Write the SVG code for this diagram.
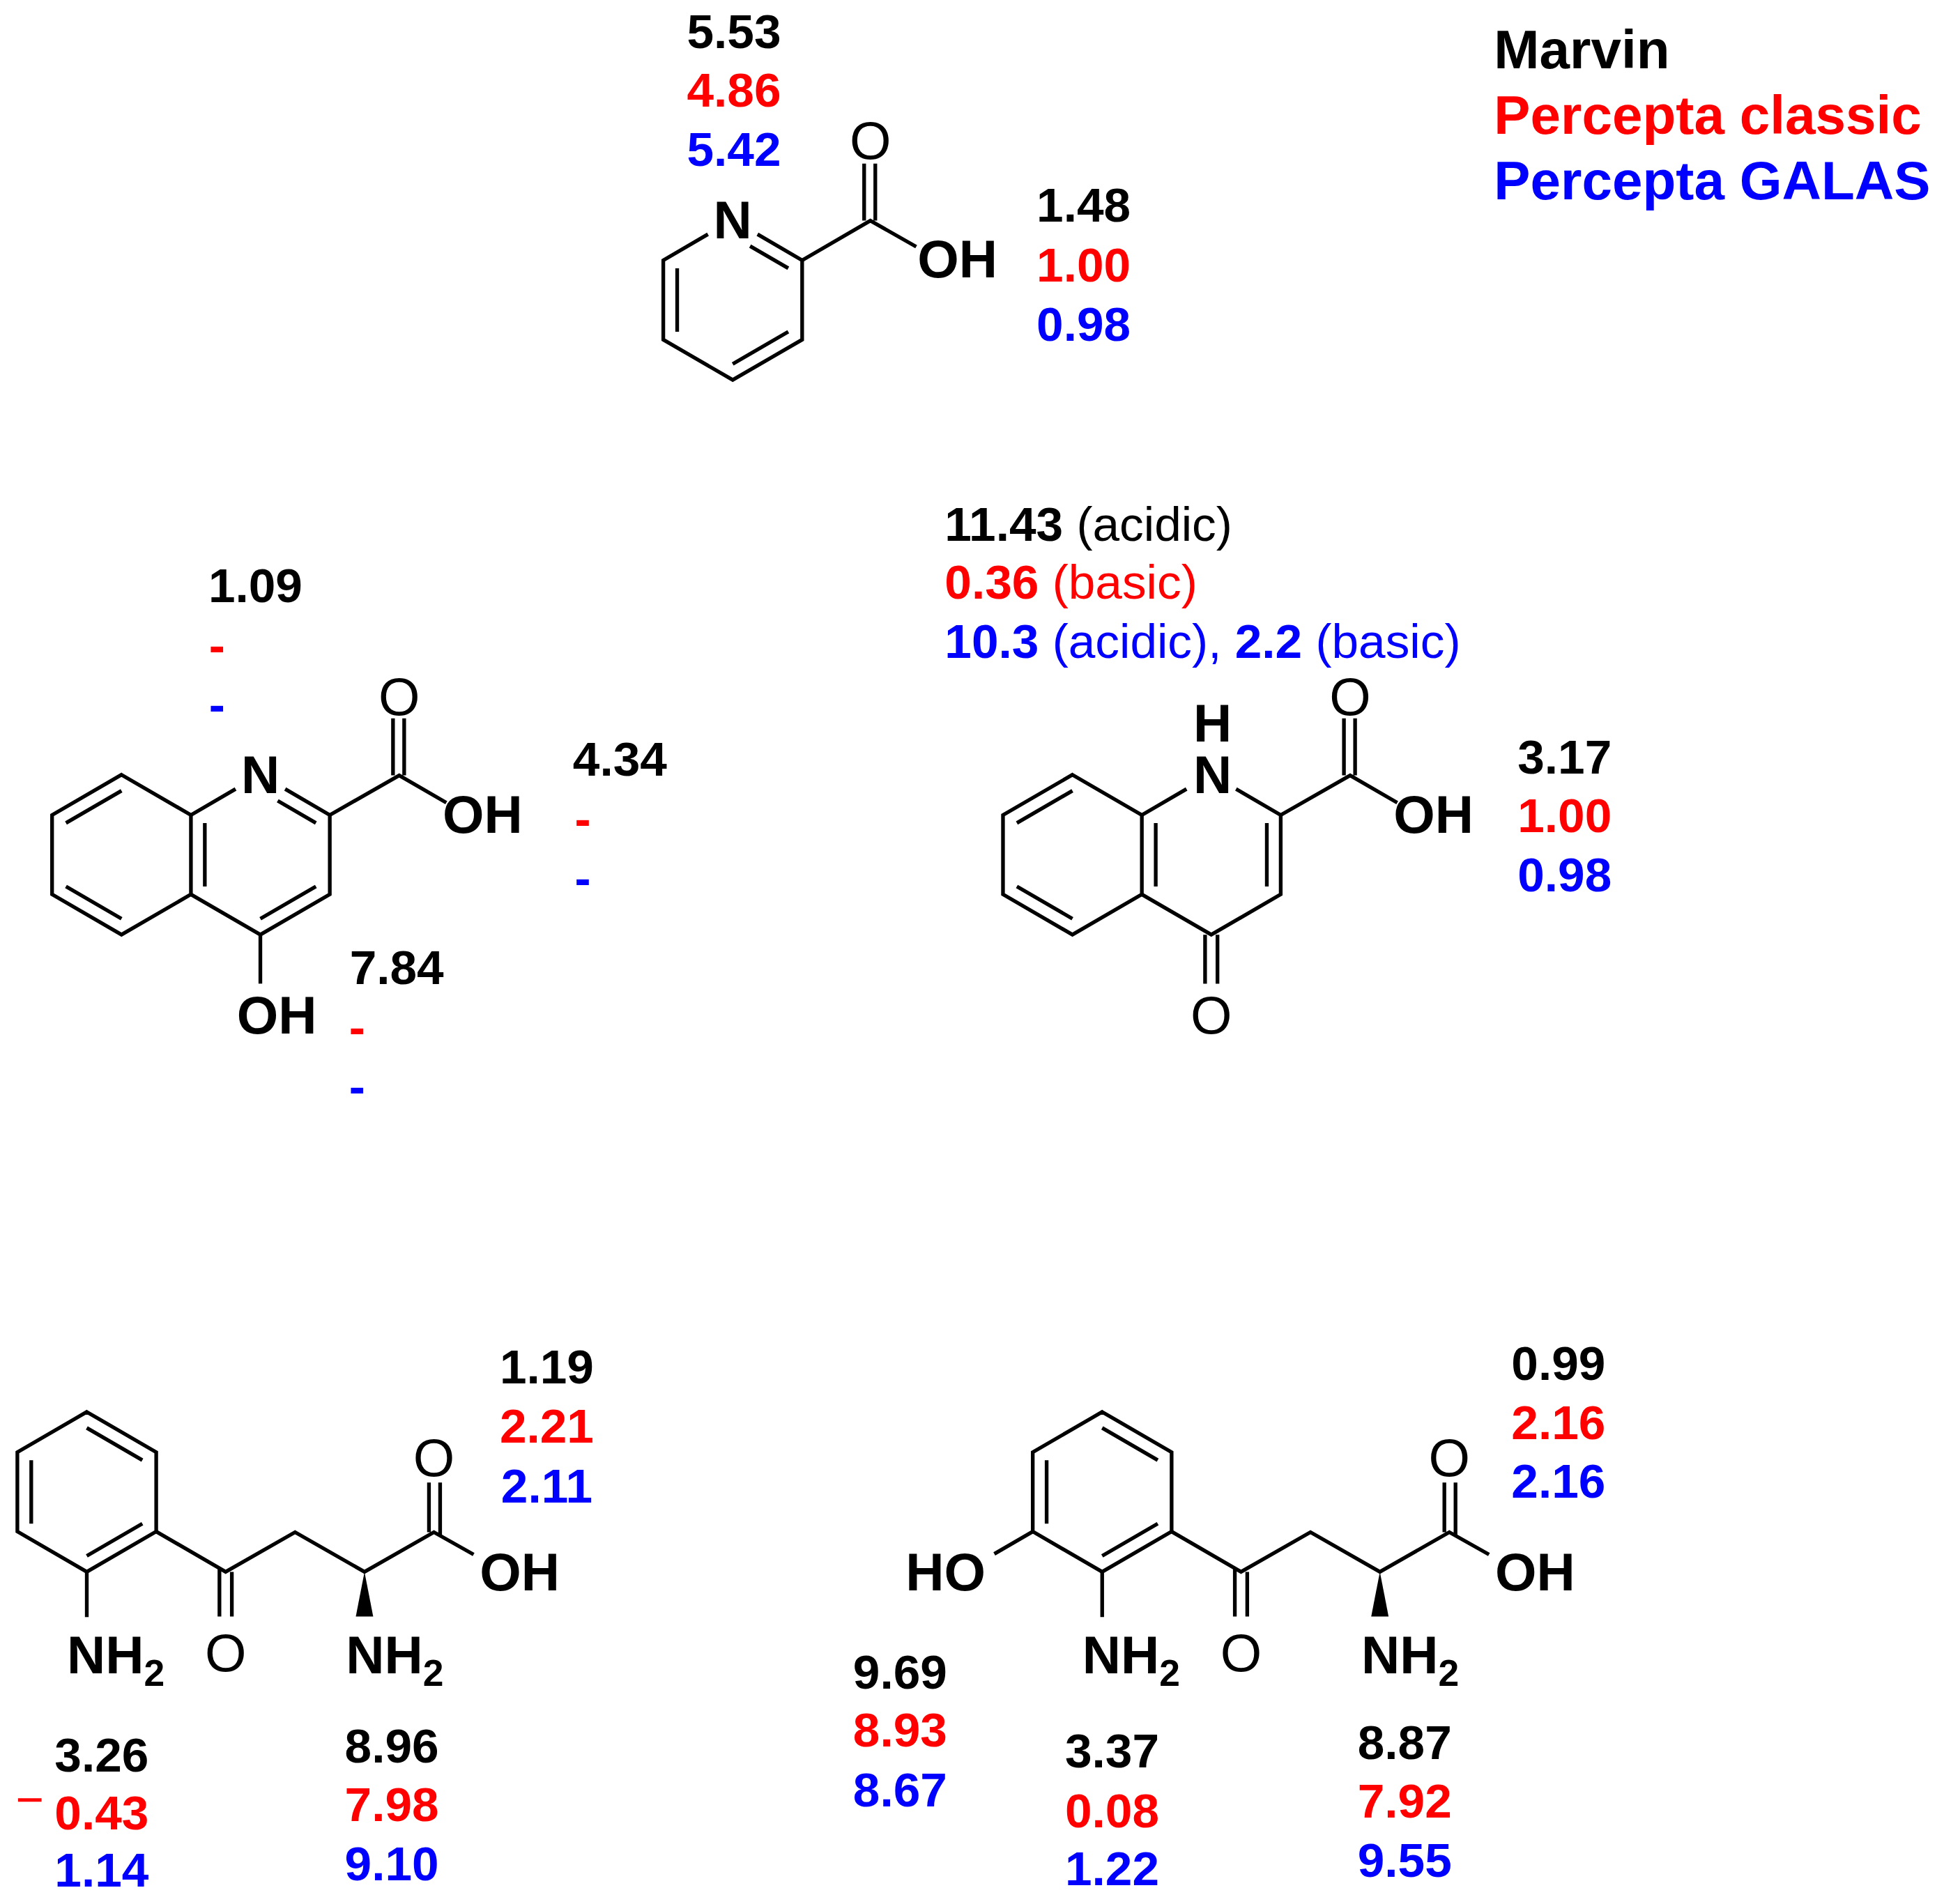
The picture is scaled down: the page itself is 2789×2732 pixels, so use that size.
<svg xmlns="http://www.w3.org/2000/svg" width="2789" height="2732" viewBox="0 0 2789 2732">
<style>
.b{stroke:#000;stroke-width:3;fill:none;stroke-linecap:butt}
text{font-family:"Liberation Sans",Arial,sans-serif;font-size:39px}
.k{fill:#000;font-weight:bold}
.r{fill:#ff0000;font-weight:bold}
.u{fill:#0000ff;font-weight:bold}
.a{font-weight:bold;fill:#000;font-size:43px}
.o{font-weight:normal;fill:#000;font-size:43px}
.oo{font-weight:normal;fill:#000}
.m{text-anchor:middle}
.lg{font-size:44px}
</style>
<rect width="2789" height="2732" fill="#fff"/>
<g transform="scale(1.7787)">
<g id="legend">
<text class="k lg" x="1205" y="55">Marvin</text>
<text class="r lg" x="1205" y="108">Percepta classic</text>
<text class="u lg" x="1205" y="161">Percepta GALAS</text>
</g>
<g id="mol1">
<g class="b" transform="translate(591,242)">
<path d="M-20,-53 L-56,-32 L-56,32 L0,64.5 L56,32 L56,-32 L20,-53"/>
<path d="M14,-43.5 L44.8,-25.6 M44.8,25.6 L0,51.6 M-44.8,25.6 L-44.8,-25.6"/>
<path d="M56,-32 L111,-64 L148,-43 M106,-64 L106,-110 M115,-64 L115,-110"/>
</g>
<text class="a m" x="591" y="192">N</text>
<text class="o m" x="702" y="128">O</text>
<text class="a" x="740" y="224">OH</text>
<text class="k m" x="592" y="39">5.53</text>
<text class="r m" x="592" y="86">4.86</text>
<text class="u m" x="592" y="134">5.42</text>
<text class="k m" x="874" y="179">1.48</text>
<text class="r m" x="874" y="227">1.00</text>
<text class="u m" x="874" y="275">0.98</text>
</g>
<g id="mol2">
<g class="b" transform="translate(98,689.5)">
<path d="M0,-64.5 L56,-32 L56,32 L0,64.5 L-56,32 L-56,-32 Z"/>
<path d="M-44.8,-25.6 L0,-51.6 M-44.8,25.6 L0,51.6"/>
</g>
<g class="b" transform="translate(210,689.5)">
<path d="M-56,-32 L-20,-53 M20,-53 L56,-32 L56,32 L0,64.5 L-56,32"/>
<path d="M14,-43.5 L44.8,-25.6 M44.8,25.6 L0,51.6 M-44.8,25.6 L-44.8,-25.6"/>
<path d="M56,-32 L112,-64 L150,-42 M107,-64 L107,-110 M116,-64 L116,-110"/>
<path d="M0,64.5 L0,104"/>
</g>
<text class="a m" x="210" y="640">N</text>
<text class="o m" x="322" y="577">O</text>
<text class="a" x="357" y="672">OH</text>
<text class="a" x="191" y="834">OH</text>
<text class="k m" x="206" y="486">1.09</text>
<text class="r m" x="175" y="534">-</text>
<text class="u m" x="175" y="582">-</text>
<text class="k m" x="500" y="626">4.34</text>
<text class="r m" x="470" y="674">-</text>
<text class="u m" x="470" y="722">-</text>
<text class="k m" x="320" y="794">7.84</text>
<text class="r m" x="288" y="842">-</text>
<text class="u m" x="288" y="890">-</text>
</g>
<g id="mol3">
<g class="b" transform="translate(865,689.5)">
<path d="M0,-64.5 L56,-32 L56,32 L0,64.5 L-56,32 L-56,-32 Z"/>
<path d="M-44.8,-25.6 L0,-51.6 M-44.8,25.6 L0,51.6"/>
</g>
<g class="b" transform="translate(977,689.5)">
<path d="M-56,-32 L-20,-53 M20,-53 L56,-32 L56,32 L0,64.5 L-56,32"/>
<path d="M44.8,-25.6 L44.8,25.6 M-44.8,25.6 L-44.8,-25.6"/>
<path d="M56,-32 L112,-64 L150,-42 M107,-64 L107,-110 M116,-64 L116,-110"/>
<path d="M-5,64.5 L-5,104 M5,64.5 L5,104"/>
</g>
<text class="a m" x="978" y="598">H</text>
<text class="a m" x="978" y="640">N</text>
<text class="o m" x="1089" y="577">O</text>
<text class="a" x="1124" y="672">OH</text>
<text class="o m" x="977" y="834">O</text>
<text x="762" y="436"><tspan class="k">11.43</tspan><tspan class="oo"> (acidic)</tspan></text>
<text x="762" y="483" fill="#ff0000"><tspan font-weight="bold">0.36</tspan> (basic)</text>
<text x="762" y="531" fill="#0000ff"><tspan font-weight="bold">10.3</tspan> (acidic), <tspan font-weight="bold">2.2</tspan> (basic)</text>
<text class="k m" x="1262" y="624">3.17</text>
<text class="r m" x="1262" y="671">1.00</text>
<text class="u m" x="1262" y="719">0.98</text>
</g>
<g id="mol4">
<g class="b" transform="translate(70,1203.5)">
<path d="M0,-64.5 L56,-32 L56,32 L0,64.5 L-56,32 L-56,-32 Z"/>
<path d="M0,-51.6 L44.8,-25.6 M44.8,25.6 L0,51.6 M-44.8,25.6 L-44.8,-25.6"/>
<path d="M0,64.5 L0,101"/>
</g>
<path class="b" d="M126,1235.5 L182,1268 L238,1236 L294,1268 L350,1236 L382,1254 M177,1266 L177,1304 M187,1268 L187,1304 M346,1236 L346,1196 M355,1238 L355,1196"/>
<polygon points="294,1268 287,1304 301,1304" fill="#000"/>
<text class="a" x="54" y="1350">NH<tspan font-size="30" dy="10">2</tspan></text>
<text class="o m" x="182" y="1348">O</text>
<text class="a" x="279" y="1350">NH<tspan font-size="30" dy="10">2</tspan></text>
<text class="o m" x="350" y="1191">O</text>
<text class="a" x="387" y="1283">OH</text>
<text class="k m" x="441" y="1116">1.19</text>
<text class="r m" x="441" y="1164">2.21</text>
<text class="u m" x="441" y="1212">2.11</text>
<text class="k m" x="82" y="1429">3.26</text>
<text class="m" x="24" y="1465" font-size="26" fill="#ff0000">−</text>
<text class="r m" x="82" y="1476">0.43</text>
<text class="u m" x="82" y="1522">1.14</text>
<text class="k m" x="316" y="1422">8.96</text>
<text class="r m" x="316" y="1469">7.98</text>
<text class="u m" x="316" y="1517">9.10</text>
</g>
<g id="mol5">
<g class="b" transform="translate(889,1203.5)">
<path d="M0,-64.5 L56,-32 L56,32 L0,64.5 L-56,32 L-56,-32 Z"/>
<path d="M0,-51.6 L44.8,-25.6 M44.8,25.6 L0,51.6 M-44.8,25.6 L-44.8,-25.6"/>
<path d="M0,64.5 L0,101 M-56,32 L-87,50"/>
</g>
<path class="b" d="M945,1235.5 L1001,1268 L1057,1236 L1113,1268 L1169,1236 L1201,1254 M996,1266 L996,1304 M1006,1268 L1006,1304 M1165,1236 L1165,1196 M1174,1238 L1174,1196"/>
<polygon points="1113,1268 1106,1304 1120,1304" fill="#000"/>
<text class="a" x="795" y="1283" text-anchor="end">HO</text>
<text class="a" x="873" y="1350">NH<tspan font-size="30" dy="10">2</tspan></text>
<text class="o m" x="1001" y="1348">O</text>
<text class="a" x="1098" y="1350">NH<tspan font-size="30" dy="10">2</tspan></text>
<text class="o m" x="1169" y="1191">O</text>
<text class="a" x="1206" y="1283">OH</text>
<text class="k m" x="1257" y="1113">0.99</text>
<text class="r m" x="1257" y="1161">2.16</text>
<text class="u m" x="1257" y="1208">2.16</text>
<text class="k m" x="726" y="1362">9.69</text>
<text class="r m" x="726" y="1409">8.93</text>
<text class="u m" x="726" y="1457">8.67</text>
<text class="k m" x="897" y="1426">3.37</text>
<text class="r m" x="897" y="1474">0.08</text>
<text class="u m" x="897" y="1521">1.22</text>
<text class="k m" x="1133" y="1419">8.87</text>
<text class="r m" x="1133" y="1466">7.92</text>
<text class="u m" x="1133" y="1514">9.55</text>
</g>
</g>
</svg>
